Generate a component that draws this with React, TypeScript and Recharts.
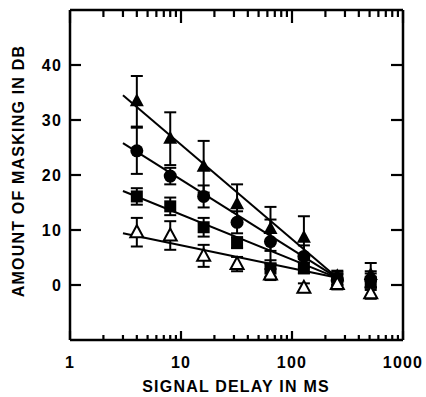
import React from "react";
import { ScatterChart, Scatter, XAxis, YAxis, ErrorBar } from "recharts";

// signal delay (ms) for every measured point
const delays = [4, 8, 16, 32, 64, 128, 256, 512];

// amount of masking (dB) per condition
const filledTriangle = [33.4, 26.6, 21.5, 14.7, 10.2, 8.6, 1.6, 1.8];
const filledTriangleErr = [4.6, 4.8, 4.7, 3.6, 4.0, 3.9, 1.0, 2.2];
const filledCircle = [24.4, 19.8, 16.1, 11.4, 7.9, 5.2, 1.0, 1.0];
const filledCircleErr = [4.2, 1.5, 2.0, 2.0, 4.0, 2.0, 1.0, 1.5];
const filledSquare = [16.1, 14.3, 10.5, 7.7, 3.0, 3.1, 1.2, 0.6];
const filledSquareErr = [1.5, 1.6, 1.7, 1.0, 1.5, 1.0, 1.2, 1.5];
const openTriangle = [9.6, 9.0, 5.3, 3.8, 1.9, -0.5, 0.2, -1.5];
const openTriangleErr = [2.6, 2.6, 2.0, 1.3, 1.0, 0.8, 1.0, 1.0];

// fitted lines: [start, end] delay and dB
const fitDelays = [3, 256];
const fitTriangle = [34.5, 1.3];
const fitCircle = [25.8, 1.3];
const fitSquare = [17.1, 1.3];
const fitOpen = [9.4, 1.3];

const xTicks = [1, 2, 3, 4, 5, 6, 7, 8, 9, 10, 20, 30, 40, 50, 60, 70, 80, 90, 100, 200, 300, 400, 500, 600, 700, 800, 900, 1000];
const xMajor = [1, 10, 100, 1000];
const yTicks = [0, 10, 20, 30, 40];

const points = (vals: number[], errs: number[]) =>
  delays.map((d, i) => ({ x: d, y: vals[i], err: errs[i] }));
const fit = (vals: number[]) => fitDelays.map((d, i) => ({ x: d, y: vals[i] }));

const font = {
  fontFamily: "Liberation Sans, Arial, sans-serif",
  fontWeight: "bold" as const,
  fontSize: 16,
  letterSpacing: 1.2,
  fill: "#000",
};

// ticks point inward on all four sides, like the printed figure
const BottomTick = (props: any) => {
  const { x, y, payload } = props;
  const major = xMajor.includes(payload.value);
  return (
    <g>
      <line x1={x} x2={x} y1={y} y2={y - (major ? 9 : 5)} stroke="#000" strokeWidth={2.2} />
      {major && (
        <text x={x} y={y + 28} textAnchor="middle" {...font}>
          {payload.value}
        </text>
      )}
    </g>
  );
};

const TopTick = (props: any) => {
  const { x, y, payload } = props;
  const major = xMajor.includes(payload.value);
  return <line x1={x} x2={x} y1={y} y2={y + (major ? 13 : 7)} stroke="#000" strokeWidth={2.2} />;
};

const LeftTick = (props: any) => {
  const { x, y, payload } = props;
  return (
    <g>
      <line x1={x} x2={x + 11} y1={y} y2={y} stroke="#000" strokeWidth={2.2} />
      <text x={x - 8} y={y + 6} textAnchor="end" {...font}>
        {payload.value}
      </text>
    </g>
  );
};

const RightTick = (props: any) => {
  const { x, y } = props;
  return <line x1={x} x2={x - 12} y1={y} y2={y} stroke="#000" strokeWidth={2.2} />;
};

const XTitle = () => (
  <text x={236} y={392} textAnchor="middle" {...font}>
    SIGNAL DELAY IN MS
  </text>
);

const YTitle = () => (
  <text transform="translate(24,171) rotate(-90)" textAnchor="middle" {...font}>
    AMOUNT OF MASKING IN DB
  </text>
);

const TriangleFilled = ({ cx, cy }: any) => (
  <polygon points={`${cx},${cy - 8} ${cx - 7},${cy + 5} ${cx + 7},${cy + 5}`} fill="#000" />
);
const CircleFilled = ({ cx, cy }: any) => <circle cx={cx} cy={cy} r={6.5} fill="#000" />;
const SquareFilled = ({ cx, cy }: any) => (
  <rect x={cx - 6} y={cy - 6} width={12} height={12} fill="#000" />
);
const TriangleOpen = ({ cx, cy }: any) => (
  <polygon
    points={`${cx},${cy - 7} ${cx - 6.5},${cy + 5} ${cx + 6.5},${cy + 5}`}
    fill="#fff"
    stroke="#000"
    strokeWidth={2}
  />
);
const NoDot = () => <g />;

const axisLine = { stroke: "#000", strokeWidth: 2.5 };
const fitLine = { stroke: "#000", strokeWidth: 2 };

export default function App() {
  return (
    <div style={{ position: "absolute", left: 0, top: 0, background: "#fff" }}>
      <ScatterChart width={426} height={397} margin={{ top: 0, right: 0, bottom: 0, left: 0 }}>
        <XAxis
          dataKey="x"
          type="number"
          scale="log"
          domain={[1, 1000]}
          ticks={xTicks}
          interval={0}
          tickSize={0}
          tickMargin={0}
          tickLine={false}
          axisLine={axisLine}
          tick={<BottomTick />}
          height={57}
          label={<XTitle />}
        />
        <XAxis
          xAxisId="top"
          orientation="top"
          dataKey="x"
          type="number"
          scale="log"
          domain={[1, 1000]}
          ticks={xTicks}
          interval={0}
          tickSize={0}
          tickMargin={0}
          tickLine={false}
          axisLine={axisLine}
          tick={<TopTick />}
          height={10}
        />
        <YAxis
          dataKey="y"
          type="number"
          domain={[-10, 50]}
          ticks={yTicks}
          interval={0}
          tickSize={0}
          tickMargin={0}
          tickLine={false}
          axisLine={axisLine}
          tick={<LeftTick />}
          width={70}
          label={<YTitle />}
        />
        <YAxis
          yAxisId="right"
          orientation="right"
          dataKey="y"
          type="number"
          domain={[-10, 50]}
          ticks={yTicks}
          interval={0}
          tickSize={0}
          tickMargin={0}
          tickLine={false}
          axisLine={axisLine}
          tick={<RightTick />}
          width={23}
        />

        <Scatter data={fit(fitTriangle)} line={fitLine} shape={<NoDot />} fill="#000" isAnimationActive={false} />
        <Scatter data={fit(fitCircle)} line={fitLine} shape={<NoDot />} fill="#000" isAnimationActive={false} />
        <Scatter data={fit(fitSquare)} line={fitLine} shape={<NoDot />} fill="#000" isAnimationActive={false} />
        <Scatter
          data={fit(fitOpen)}
          xAxisId="top"
          yAxisId="right"
          line={fitLine}
          shape={<NoDot />}
          fill="#000"
          isAnimationActive={false}
        />

        <Scatter data={points(filledSquare, filledSquareErr)} shape={<SquareFilled />} isAnimationActive={false}>
          <ErrorBar dataKey="err" direction="y" width={6} stroke="#000" strokeWidth={2} />
        </Scatter>
        <Scatter data={points(filledCircle, filledCircleErr)} shape={<CircleFilled />} isAnimationActive={false}>
          <ErrorBar dataKey="err" direction="y" width={6} stroke="#000" strokeWidth={2} />
        </Scatter>
        <Scatter data={points(filledTriangle, filledTriangleErr)} shape={<TriangleFilled />} isAnimationActive={false}>
          <ErrorBar dataKey="err" direction="y" width={6} stroke="#000" strokeWidth={2} />
        </Scatter>
        <Scatter data={points(openTriangle, openTriangleErr)} shape={<TriangleOpen />} isAnimationActive={false}>
          <ErrorBar dataKey="err" direction="y" width={6} stroke="#000" strokeWidth={2} />
        </Scatter>
      </ScatterChart>
    </div>
  );
}
